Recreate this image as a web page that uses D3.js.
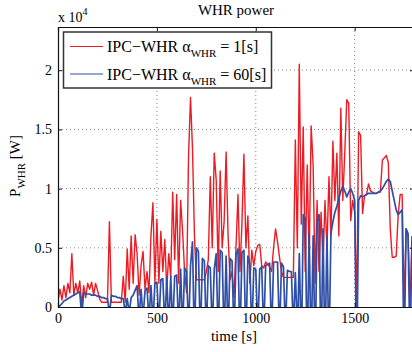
<!DOCTYPE html>
<html>
<head>
<meta charset="utf-8">
<script src="https://cdn.jsdelivr.net/npm/d3@7"></script>
<style>
  body { margin: 0; background: #fff; }
  svg text { font-family: "Liberation Serif", serif; fill: #000; }
</style>
</head>
<body>
<div id="chart"></div>
<script>
'use strict';

// sample spacing of both series [s]
const time_step = 10

// IPC-WHR, alpha_WHR = 1 s  (values in 1e4 W)
const red_vals = [
  0.05,0.15,0.06,0.18,0.08,0.2,0.12,0.45,0.1,0.2,
  0.12,0.22,0.02,0.18,0.08,0.2,0.15,0.21,0.1,0.2,
  0.14,0.07,0.04,0.04,0.04,0.04,0.72,0.04,0.04,0.04,
  0.04,0.04,0.04,0.26,0.04,0.49,0.15,0.6,0.2,0.61,
  0.45,0.1,0.35,0.47,0.15,0.3,0.12,0.6,0.88,0.2,
  0.74,0.2,0.64,0.3,0.57,0.15,0.45,0.25,0.97,0.4,
  0.95,0.2,0.9,0.64,0.3,0.12,1.27,1.77,1.34,0.6,
  0.23,0.23,0.23,0.23,0.23,0.3,0.4,1.1,0.5,1.3,
  1.07,0.3,1.15,0.5,0.72,1.31,0.6,0.23,0.3,0.08,
  0.5,0.95,0.3,0.7,1.29,0.5,0.77,0.2,0.48,0.35,
  0.47,0.52,0.53,0.35,0.33,0.38,0.36,0.34,0.3,0.5,
  0.66,0.55,0.42,0.3,0.25,0.25,0.25,0.25,0.25,0.25,
  1.41,0.5,2.05,0.7,1.52,0.3,1.2,0.4,1.53,1.2,
  0.2,0.9,0.3,0.8,0.38,0.9,0.5,1.1,0.6,1.4,
  0.9,1.3,0.6,1.68,0.9,1.3,1.75,1.72,0.73,0.9,
  0.8,0,1.48,1.45,0.79,0.94,0.95,1.04,0.98,0.97,
  0.96,0.96,0.97,0.97,1.24,1.26,1.28,1.22,0.66,0.42,
  0.42,0.43,0.78,0.95,0.95,0,0.66,0.6,0,0.58
]

// IPC-WHR, alpha_WHR = 60 s  (values in 1e4 W), 0 = switched off
const blue_vals = [
  0,0.01,0.03,0.05,0.06,0.07,0.08,0.09,0.1,0.11,
  0.12,0.13,0,0.12,0.11,0.11,0.11,0.1,0.1,0.1,
  0.09,0.09,0.08,0.08,0.07,0.07,0,0.1,0.09,0.09,
  0.08,0.08,0.07,0.07,0,0.07,0,0.08,0.1,0.14,
  0.18,0,0.15,0,0.14,0.16,0,0.18,0,0.2,
  0.21,0,0.23,0.24,0,0.25,0,0.26,0,0.26,
  0.27,0,0.32,0,0.33,0.3,0,0.35,0.55,0,
  0.5,0.47,0,0.41,0.39,0,0.35,0.33,0,0.32,
  0.45,0,0.48,0.46,0,0.43,0,0.41,0.39,0,
  0.44,0.49,0,0.46,0.48,0,0.43,0.36,0,0.33,
  0.32,0,0.32,0.34,0,0.35,0.36,0.37,0,0.38,
  0.38,0.38,0,0.37,0.34,0,0.31,0.3,0.3,0,
  0.29,0,0.45,0,0.78,0.75,0,0.62,0,0.6,
  0,0.72,0.78,0,0.66,0,0.6,0,0.62,0.72,
  0.8,0.85,0.92,0.98,1.02,0.98,0.93,0.97,1.0,0.96,
  0.9,0,0.9,0.94,0.93,0.94,0.95,0.96,0.96,0.96,
  0.96,0.96,0.97,0.98,1.0,1.03,1.06,1.08,1.06,0.98,
  0.9,0.82,0.78,0.8,0.82,0,0.66,0.62,0,0.6
]

const series_labels = ['1[s]', '60[s]']
const series_colors = ['#ec1c24', '#2f4fa6']
const x_ticks = [0, 500, 1000, 1500]
const y_ticks = [0, 0.5, 1, 1.5, 2]
const x_domain = [0, 1800]
const y_domain = [0, 2.365]

const dims = {
  width: 412,
  height: 352,
  margin: { top: 27, bottom: 45, left: 58, right: -2 }
}
dims.ctrWidth = dims.width - dims.margin.left - dims.margin.right
dims.ctrHeight = dims.height - dims.margin.top - dims.margin.bottom

const svg = d3.select('#chart')
  .append('svg')
  .attr('width', dims.width)
  .attr('height', dims.height)

const chart_g = svg.append('g')
  .attr('transform', `translate(${dims.margin.left},${dims.margin.top})`)

const xScale = d3.scaleLinear().domain(x_domain).range([0, dims.ctrWidth])
const yScale = d3.scaleLinear().domain(y_domain).range([dims.ctrHeight, 0])

// dotted grid
const grid_g = chart_g.append('g')
  .attr('stroke', '#555')
  .attr('stroke-width', 0.7)
  .attr('stroke-dasharray', '1 3')
grid_g.selectAll('.gx')
  .data(x_ticks.filter(d => d > 0))
  .join('line')
  .attr('x1', d => xScale(d)).attr('x2', d => xScale(d))
  .attr('y1', 0).attr('y2', dims.ctrHeight)
grid_g.selectAll('.gy')
  .data(y_ticks.filter(d => d > 0))
  .join('line')
  .attr('y1', d => yScale(d)).attr('y2', d => yScale(d))
  .attr('x1', 0).attr('x2', dims.ctrWidth)

// data lines, clipped to the axes box
svg.append('clipPath').attr('id', 'plot_clip')
  .append('rect')
  .attr('width', dims.ctrWidth).attr('height', dims.ctrHeight)

const line = d3.line()
  .x(d => xScale(d[0]))
  .y(d => yScale(d[1]))

const red_pts = red_vals.map((v, i) => [i * time_step, v])
// an "off" sample is held for the whole sample, so its edges stay near vertical
const blue_pts = blue_vals.flatMap((v, i) => {
  const t = i * time_step
  return v === 0 && i > 0 ? [[t - 4, 0], [t + 4, 0]] : [[t, v]]
})

const lines_g = chart_g.append('g').attr('clip-path', 'url(#plot_clip)')
lines_g.append('path')
  .attr('d', line(red_pts))
  .attr('fill', 'none')
  .attr('stroke', series_colors[0])
  .attr('stroke-width', 1.4)
  .attr('stroke-linejoin', 'round')
lines_g.append('path')
  .attr('d', line(blue_pts))
  .attr('fill', 'none')
  .attr('stroke', series_colors[1])
  .attr('stroke-width', 1.7)
  .attr('stroke-linejoin', 'round')

// axes (ticks point inward, matlab style)
const xAxis = d3.axisBottom(xScale).tickValues(x_ticks).tickSize(-4).tickPadding(6)
  .tickFormat(d => d)
const yAxis = d3.axisLeft(yScale).tickValues(y_ticks).tickSize(-4).tickPadding(6)
  .tickFormat(d => d)

chart_g.append('g')
  .attr('transform', `translate(0,${dims.ctrHeight})`)
  .call(xAxis)
chart_g.append('g').call(yAxis)
chart_g.append('g')
  .call(d3.axisTop(xScale).tickValues(x_ticks).tickSize(-4).tickFormat(''))
chart_g.append('g')
  .attr('transform', `translate(${dims.ctrWidth},0)`)
  .call(d3.axisRight(yScale).tickValues(y_ticks).tickSize(-4).tickFormat(''))

chart_g.selectAll('.domain').attr('stroke', '#111').attr('stroke-width', 1.2)
chart_g.selectAll('.tick line').attr('stroke', '#111')
chart_g.selectAll('.tick text')
  .attr('font-family', '"Liberation Serif", serif')
  .style('font-size', '14px')
  .attr('fill', '#000')

// titles
svg.append('text')
  .attr('x', 236).attr('y', 15)
  .attr('text-anchor', 'middle')
  .style('font-size', '15px')
  .text('WHR power')

const exp_txt = svg.append('text')
  .attr('x', 58).attr('y', 22)
  .style('font-size', '14px')
exp_txt.append('tspan').text('x 10')
exp_txt.append('tspan').attr('dy', -7).style('font-size', '10px').text('4')

svg.append('text')
  .attr('x', dims.margin.left + dims.ctrWidth / 2 - 2).attr('y', 341)
  .attr('text-anchor', 'middle')
  .style('font-size', '15px')
  .text('time [s]')

const ylab = svg.append('text')
  .attr('transform', 'translate(20,166) rotate(-90)')
  .attr('text-anchor', 'middle')
  .style('font-size', '15px')
ylab.append('tspan').text('P')
ylab.append('tspan').attr('dy', 5).style('font-size', '11px').text('WHR')
ylab.append('tspan').attr('dy', -5).text(' [W]')

// legend
const legend_g = svg.append('g')
legend_g.append('rect')
  .attr('x', 63.5).attr('y', 32)
  .attr('width', 208).attr('height', 56)
  .attr('fill', '#fff')
  .attr('stroke', '#333')
  .attr('stroke-width', 1.5)

const legend_rows = legend_g.selectAll('.lrow')
  .data(series_labels)
  .join('g')
  .attr('transform', (d, i) => `translate(0,${46.5 + i * 27.5})`)

legend_rows.append('line')
  .attr('x1', 70).attr('x2', 103)
  .attr('stroke', (d, i) => series_colors[i])
  .attr('stroke-width', 1.2)

const ltext = legend_rows.append('text')
  .attr('x', 107).attr('y', 5.5)
  .style('font-size', '16px')
ltext.append('tspan').text('IPC\u2212WHR \u03b1')
ltext.append('tspan').attr('dy', 5).style('font-size', '11px').text('WHR')
ltext.append('tspan').attr('dy', -5).text(d => ' = ' + d)
</script>
</body>
</html>
